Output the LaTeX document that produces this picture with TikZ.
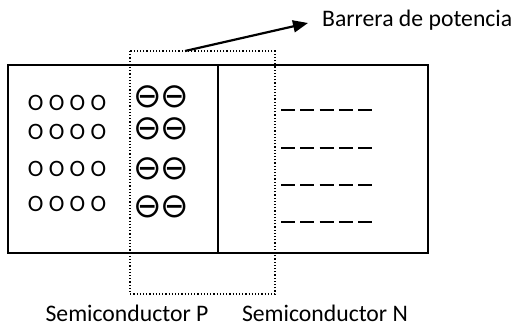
\documentclass[tikz,border=0pt]{standalone}
\usepackage{fontspec}
\setmainfont{Carlito}
\newfontfamily\symfont{DejaVu Sans}
\usetikzlibrary{arrows.meta}
\begin{document}
\begin{tikzpicture}[x=1pt,y=-1pt,
  lbl/.style={inner sep=0pt,font=\fontsize{23.7}{28}\selectfont},
  hole/.style={inner sep=0pt,font=\fontsize{23.5}{28}\selectfont},
  ion/.style={inner sep=0pt,font=\symfont\fontsize{34}{40}\selectfont},
  box/.style={draw,line width=1.8pt},
  zone/.style={draw,line width=1.2pt,dotted},
  elec/.style={line width=1.5pt,dash pattern=on 14pt off 5.3pt},
  pointer/.style={line width=2.2pt,-{Triangle[length=15pt,width=12pt]}}]
\useasboundingbox (0,0) rectangle (518,328);
% outer box and junction
\draw[box] (8,65) rectangle (428,253);
\draw[box] (218,65) -- (218,253);
% depletion zone
\draw[zone] (130,51) rectangle (275,294);
% holes
\foreach \y/\n in {103/1,132/2,169/3,204/4}{
  \node[hole] (h\n) at (67,\y) {O O O O};
}
% ions
\foreach \y/\n in {97/1,129/2,169/3,207/4}{
  \node[ion] (ia\n) at (147.5,\y) {⊖};
  \node[ion] (ib\n) at (174.5,\y) {⊖};
}
% electrons
\foreach \y/\n in {110/1,148/2,185/3,222/4}{
  \coordinate (ea\n) at (281,\y);
  \coordinate (eb\n) at (372.5,\y);
  \draw[elec] (ea\n) -- (eb\n);
}
% label and arrow
\coordinate (zt) at (185,51);
\node[lbl,anchor=base west] (bar) at (322,26.5) {Barrera de potencia};
\coordinate (tip) at (308,23);
\draw[pointer] (zt) -- (tip);
\node[lbl,anchor=base] (sp) at (127,321.5) {Semiconductor P};
\node[lbl,anchor=base] (sn) at (325,321.5) {Semiconductor N};
\end{tikzpicture}
\end{document}
